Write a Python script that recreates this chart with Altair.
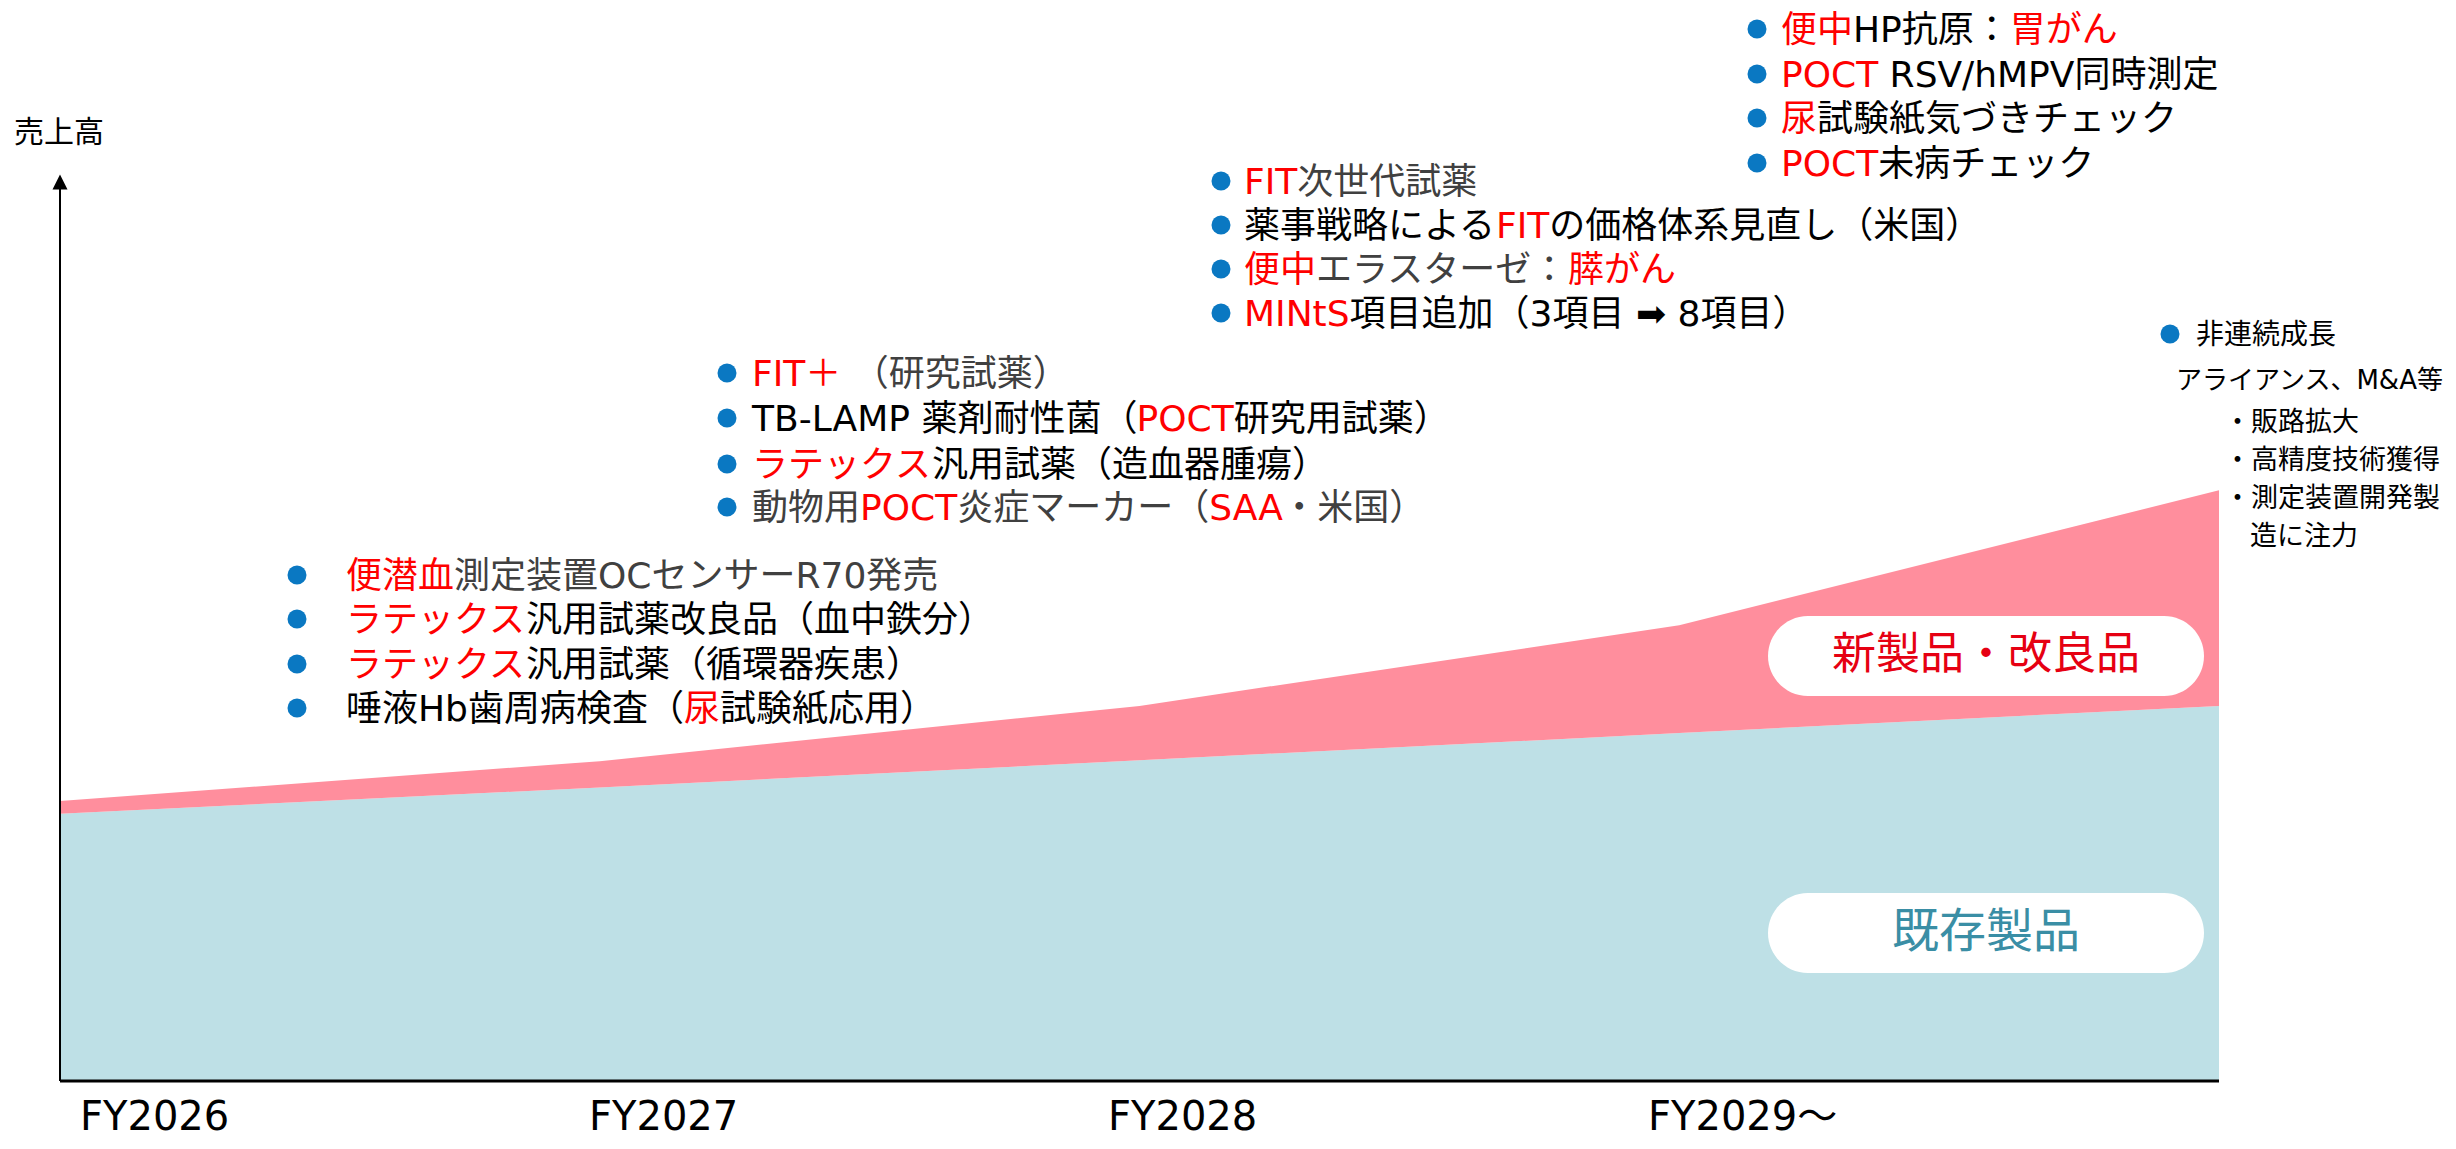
import altair as alt
import pandas as pd

# ---------------- data ----------------
years_x = [0, 1, 2, 3, 4]                      # FY2026 .. beyond FY2029 (positions along time)
existing = [29.5, 32.4, 35.4, 38.4, 41.4]      # 既存製品
new_products = [1.4, 2.9, 6.0, 11.9, 23.8]    # 新製品・改良品 (stacked on top)
series_names = ["既存製品", "新製品・改良品"]
tick_labels = ["FY2026", "FY2027", "FY2028", "FY2029～"]
y_title = "売上高"

# annotation texts: (segment, kind) kind: hl = red highlight, txt = black, sub = dark gray
block1 = [
    [("便潜血", "hl"), ("測定装置OCセンサーR70発売", "sub")],
    [("ラテックス", "hl"), ("汎用試薬改良品（血中鉄分）", "txt")],
    [("ラテックス", "hl"), ("汎用試薬（循環器疾患）", "txt")],
    [("唾液Hb歯周病検査（", "txt"), ("尿", "hl"), ("試験紙応用）", "txt")],
]
block2 = [
    [("FIT＋", "hl"), (" （研究試薬）", "sub")],
    [("TB-LAMP 薬剤耐性菌（", "txt"), ("POCT", "hl"), ("研究用試薬）", "txt")],
    [("ラテックス", "hl"), ("汎用試薬（造血器腫瘍）", "txt")],
    [("動物用", "sub"), ("POCT", "hl"), ("炎症マーカー（", "sub"), ("SAA", "hl"), ("・米国）", "sub")],
]
block3 = [
    [("FIT", "hl"), ("次世代試薬", "sub")],
    [("薬事戦略による", "txt"), ("FIT", "hl"), ("の価格体系見直し（米国）", "txt")],
    [("便中", "hl"), ("エラスターゼ：", "sub"), ("膵がん", "hl")],
    [("MINtS", "hl"), ("項目追加（3項目 ➡ 8項目）", "txt")],
]
block4 = [
    [("便中", "hl"), ("HP抗原：", "txt"), ("胃がん", "hl")],
    [("POCT", "hl"), (" RSV/hMPV同時測定", "txt")],
    [("尿", "hl"), ("試験紙気づきチェック", "txt")],
    [("POCT", "hl"), ("未病チェック", "txt")],
]
right_lines = ["非連続成長", "アライアンス、M&A等", "・販路拡大", "・高精度技術獲得", "・測定装置開発製", "造に注力"]

# ---------------- styles ----------------
TEAL = "#BEE0E6"
PINK = "#FF8E9D"
BLUE = "#0A78C2"
KIND_COLOR = {"hl": "#FF0000", "txt": "#000000", "sub": "#404040"}
FONT = "DejaVu Sans, Noto Sans CJK JP"

# pixel <-> data helpers for layout (plot area: x 60..2219, y 175..1081 on the page)
def xd(px):
    return (px - 60) / 539.75

def yd(py):
    return (1081 - py) / 9.06

# approximate advance widths (DejaVu Sans, units/2048) for Latin text
DV = {" ": 651, "-": 739, "/": 690, "&": 1593, "A": 1401, "B": 1405, "C": 1430, "F": 1178,
      "H": 1540, "I": 604, "L": 1141, "M": 1767, "N": 1532, "O": 1612, "P": 1235, "R": 1423,
      "S": 1300, "T": 1251, "V": 1401, "b": 1300, "h": 1298, "t": 803}

def em(s):
    w = 0.0
    for c in s:
        if c in DV:
            w += DV[c] / 2048
        elif ord(c) >= 0x2E80:
            w += 1.0
        else:
            w += 0.62
    return w

layout = [
    (block1, 297, 346, [577, 621, 666, 710], 36),
    (block2, 727, 752, [375, 420, 466, 509], 36),
    (block3, 1221, 1244, [183, 227, 271, 315], 36),
    (block4, 1757, 1781, [31, 76, 120, 165], 36),
]

seg_rows, bullet_rows = [], []
for block, bpx, tpx, ys, fs in layout:
    for line, ly in zip(block, ys):
        bullet_rows.append({"x": xd(bpx), "y": yd(ly - 2)})
        xpos = tpx
        for text, kind in line:
            if text.startswith(" "):
                xpos += em(" ") * fs
                text = text.lstrip(" ")
            seg_rows.append({"x": xd(xpos), "y": yd(ly), "text": text,
                             "color": KIND_COLOR[kind], "size": fs, "base": "middle"})
            xpos += em(text) * fs

# right-hand block
bullet_rows.append({"x": xd(2170), "y": yd(334)})
right_pos = [(2196, 336, 28), (2176, 381, 26), (2224, 423, 27), (2224, 461, 27), (2224, 499, 27), (2250, 537, 27)]
for t, (px, py, fs) in zip(right_lines, right_pos):
    seg_rows.append({"x": xd(px), "y": yd(py), "text": t, "color": "#000000", "size": fs, "base": "middle"})

# axis labels
tick_px = [80, 589, 1108, 1648]
for t, px in zip(tick_labels, tick_px):
    seg_rows.append({"x": xd(px), "y": yd(1130), "text": t, "color": "#000000", "size": 40, "base": "alphabetic"})
seg_rows.append({"x": xd(14), "y": yd(133), "text": y_title, "color": "#000000", "size": 30, "base": "middle"})

seg_df = pd.DataFrame(seg_rows)
bullet_df = pd.DataFrame(bullet_rows)

# ---------------- chart ----------------
xs = alt.Scale(domain=[0, 4], nice=False, zero=False)
ys_ = alt.Scale(domain=[0, 100], nice=False, zero=False)

area_df = pd.DataFrame({
    "x": years_x * 2,
    "value": existing + new_products,
    "series": [series_names[0]] * len(years_x) + [series_names[1]] * len(years_x),
    "order": [0] * len(years_x) + [1] * len(years_x),
})

area = alt.Chart(area_df).mark_area(interpolate="linear").encode(
    x=alt.X("x:Q", scale=xs, axis=None),
    y=alt.Y("value:Q", stack="zero", scale=ys_, axis=None),
    color=alt.Color("series:N", scale=alt.Scale(domain=series_names, range=[TEAL, PINK]), legend=None),
    order=alt.Order("order:Q"),
)

axes_df = pd.DataFrame({"x": [0, 0], "x2": [0, 4], "y": [0, 0], "y2": [yd(186), 0], "w": [2, 3]})
axes = alt.Chart(axes_df).mark_rule(color="black").encode(
    x=alt.X("x:Q", scale=xs, axis=None), x2="x2:Q",
    y=alt.Y("y:Q", scale=ys_, axis=None), y2="y2:Q",
    strokeWidth=alt.StrokeWidth("w:Q", scale=None),
)

arrow = alt.Chart(pd.DataFrame({"x": [0], "y": [yd(182)]})).mark_point(
    shape="M0,-1L1,1L-1,1Z", filled=True, size=225, color="black", opacity=1
).encode(x=alt.X("x:Q", scale=xs, axis=None), y=alt.Y("y:Q", scale=ys_, axis=None))

box_df = pd.DataFrame({
    "x": [xd(1768), xd(1768)], "x2": [xd(2204), xd(2204)],
    "y": [yd(616), yd(893)], "y2": [yd(696), yd(973)],
})
boxes = alt.Chart(box_df).mark_rect(color="white", cornerRadius=40).encode(
    x=alt.X("x:Q", scale=xs, axis=None), x2="x2:Q",
    y=alt.Y("y:Q", scale=ys_, axis=None), y2="y2:Q",
)

label_df = pd.DataFrame({
    "x": [xd(1986), xd(1986)], "y": [yd(656), yd(933)],
    "text": [series_names[1], series_names[0]],
    "color": ["#E60012", "#3A8EA5"], "size": [44, 47],
})
box_labels = alt.Chart(label_df).mark_text(font=FONT, align="center", baseline="middle").encode(
    x=alt.X("x:Q", scale=xs, axis=None), y=alt.Y("y:Q", scale=ys_, axis=None),
    text="text:N", color=alt.Color("color:N", scale=None),
    size=alt.Size("size:Q", scale=None),
)

bullets = alt.Chart(bullet_df).mark_circle(size=360, opacity=1, color=BLUE).encode(
    x=alt.X("x:Q", scale=xs, axis=None), y=alt.Y("y:Q", scale=ys_, axis=None),
)

def text_layer(df, base):
    return alt.Chart(df).mark_text(font=FONT, align="left", baseline=base).encode(
        x=alt.X("x:Q", scale=xs, axis=None), y=alt.Y("y:Q", scale=ys_, axis=None),
        text="text:N", color=alt.Color("color:N", scale=None),
        size=alt.Size("size:Q", scale=None),
    )

texts_mid = text_layer(seg_df[seg_df["base"] == "middle"], "middle")
texts_alpha = text_layer(seg_df[seg_df["base"] == "alphabetic"], "alphabetic")

chart = alt.layer(area, axes, arrow, boxes, box_labels, bullets, texts_mid, texts_alpha).properties(
    width=2159, height=906,
    padding={"left": 52, "top": 167, "right": 229, "bottom": 60},
    autosize=alt.AutoSizeParams(type="none"),
    background="white",
).configure_view(strokeWidth=0)

chart.save("out.html", embed_options={"renderer": "svg", "actions": False})
